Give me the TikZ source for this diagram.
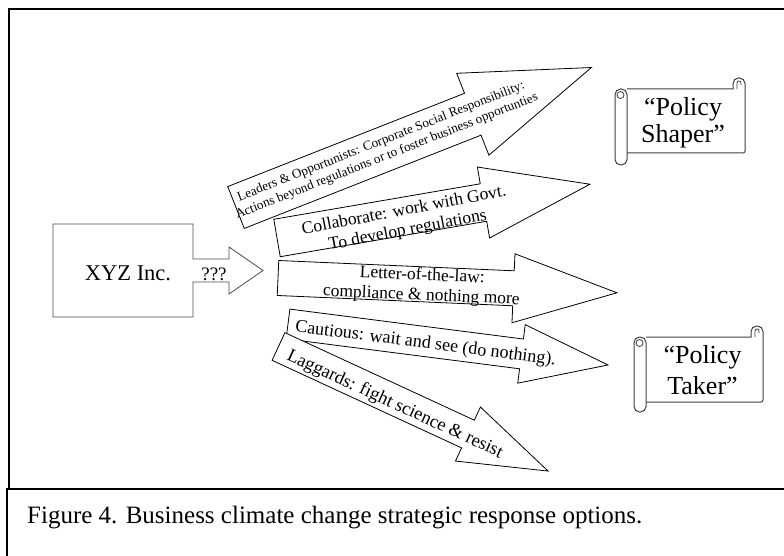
\documentclass[tikz,border=0pt]{standalone}
\usepackage{fontspec}
\setmainfont{Liberation Serif}
\begin{document}
\begin{tikzpicture}[
    x=1pt, y=-1pt,
    frame/.style={draw=black, line width=1.6pt},
    company/.style={draw=black!70, line width=0.8pt, line join=miter},
    option/.style={draw=black, fill=white, line width=0.8pt, line join=miter},
    optiontext/.style={align=center, inner sep=0pt, font=\fontsize{17.5}{20}\selectfont},
    scrollline/.style={draw=black!75, fill=white, line width=1pt},
    scrolltext/.style={anchor=base, inner sep=0pt, font=\fontsize{26}{30}\selectfont}
    ]

\clip (0,0) rectangle (784,556);

% frame and caption box
\draw[frame] (9,489) |- (800,9);
\draw[frame] (7,570) |- (800,489);
\node[anchor=base west, inner sep=0pt, font=\fontsize{25}{29}\selectfont] (caption) at (27,523)
    {Figure 4. Business climate change strategic response options.};

% company box with its own arrow
\draw[company] (53,224) -- (193,224) -- (193,259) -- (229,259) -- (229,247) -- (263,270.5)
    -- (229,294) -- (229,282) -- (193,282) -- (193,317) -- (53,317) -- cycle;
\node[anchor=base, inner sep=0pt, font=\fontsize{22.5}{26}\selectfont] (xyz) at (128,280) {XYZ Inc.};
\node[anchor=base, inner sep=0pt, font=\fontsize{19}{22}\selectfont] (ask) at (214,280) {???};

% leaders
\begin{scope}[shift={(236,207.5)}, rotate=21.5, transform shape]
  \draw[option] (0,-22.5) -- (254.5,-22.5) -- (254.5,-44) -- (382,0) -- (254.5,44) -- (254.5,22.5) -- (0,22.5) -- cycle;
  \node[optiontext, font=\fontsize{13.2}{15.5}\selectfont] (leaders) at (159,0)
      {Leaders \& Opportunists: Corporate Social Responsibility:\\Actions beyond regulations or to foster business opportunties};
\end{scope}

% collaborate
\begin{scope}[shift={(277,238)}, rotate=9.75, transform shape]
  \draw[option] (0,-19) -- (209.5,-19) -- (209.5,-36) -- (317.5,0) -- (209.5,36) -- (209.5,19) -- (0,19) -- cycle;
  \node[optiontext, rotate=1] (collab) at (130,5) {Collaborate: work with Govt.\\To develop regulations};
\end{scope}

% letter of the law
\begin{scope}[shift={(278,278)}, rotate=-2.5, transform shape]
  \draw[option] (0,-17.5) -- (235.7,-17.5) -- (235.7,-34.5) -- (339.3,0) -- (235.7,34.5) -- (235.7,17.5) -- (0,17.5) -- cycle;
  \node[optiontext] (letter) at (144,1.7) {Letter-of-the-law:\\compliance \& nothing more};
\end{scope}

% cautious
\begin{scope}[shift={(288,324)}, rotate=-7.3, transform shape]
  \draw[option] (0,-15) -- (235.4,-15) -- (235.4,-29.5) -- (322.6,0) -- (235.4,29.5) -- (235.4,15) -- (0,15) -- cycle;
  \node[optiontext, font=\fontsize{18}{21}\selectfont] (cautious) at (139,2.5) {Cautious: wait and see (do nothing).};
\end{scope}

% laggards
\begin{scope}[shift={(278.5,346.5)}, rotate=-24.8, transform shape]
  \draw[option] (0,-15.25) -- (208.7,-15.25) -- (208.7,-29.75) -- (297,0) -- (208.7,29.75) -- (208.7,15.25) -- (0,15.25) -- cycle;
  \node[optiontext, font=\fontsize{18.4}{21}\selectfont] (laggards) at (130,4) {Laggards: fight science \& resist};
\end{scope}

% policy shaper scroll
\draw[scrollline] (627,89) -- (733,89) [rounded corners=5.5] -- (733,78) -- (745,78)
    [rounded corners=2] -- (745,153) -- (627,153);
\draw[scrollline, line width=0.8pt] (737,89) -- (737,83) arc[start angle=180, end angle=360, radius=2] -- (741,85);
\draw[scrollline, rounded corners=5.5] (615,89) rectangle (627,165);
\draw[scrollline, line width=0.8pt] (620.5,95) circle[radius=3.5];
\node[scrolltext] (shaper1) at (683,116) {“Policy};
\node[scrolltext] (shaper2) at (683,143) {Shaper”};

% policy taker scroll
\draw[scrollline] (646,337) -- (751,337) [rounded corners=5.5] -- (751,326) -- (763,326)
    [rounded corners=2] -- (763,402) -- (646,402);
\draw[scrollline, line width=0.8pt] (755,337) -- (755,331) arc[start angle=180, end angle=360, radius=2] -- (759,333);
\draw[scrollline, rounded corners=5.5] (634,337) rectangle (646,412);
\draw[scrollline, line width=0.8pt] (639.5,343) circle[radius=3.5];
\node[scrolltext] (taker1) at (702.5,363) {“Policy};
\node[scrolltext] (taker2) at (702.5,394) {Taker”};
\end{tikzpicture}
\end{document}
